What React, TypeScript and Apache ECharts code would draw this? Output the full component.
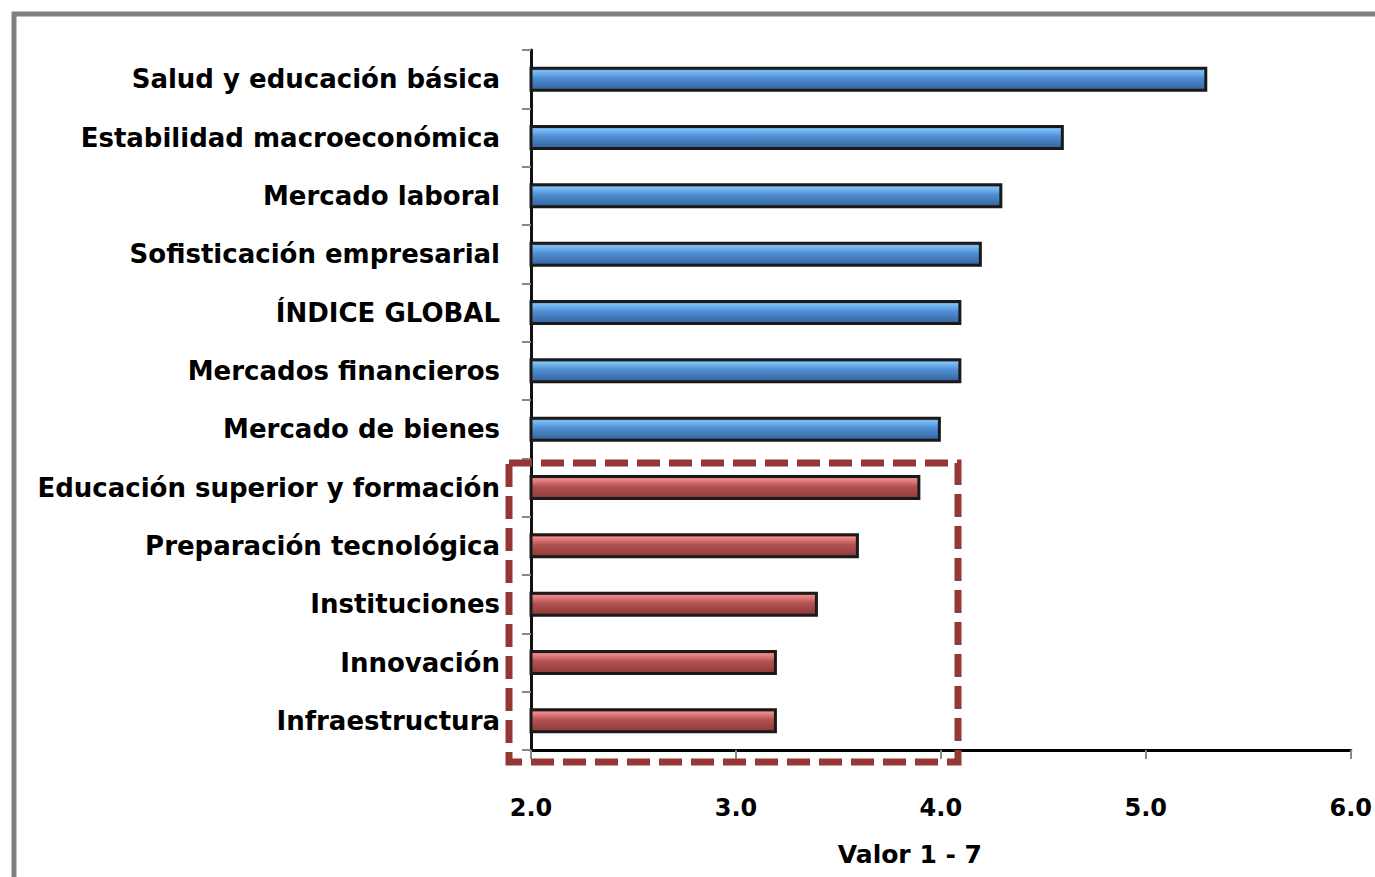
import React, { useEffect, useRef } from "react";
import * as echarts from "echarts";

const categories = [
  "Salud y educación básica",
  "Estabilidad macroeconómica",
  "Mercado laboral",
  "Sofisticación empresarial",
  "ÍNDICE GLOBAL",
  "Mercados financieros",
  "Mercado de bienes",
  "Educación superior y formación",
  "Preparación tecnológica",
  "Instituciones",
  "Innovación",
  "Infraestructura",
];
const values = [5.3, 4.6, 4.3, 4.2, 4.1, 4.1, 4.0, 3.9, 3.6, 3.4, 3.2, 3.2];
const highlighted = [false, false, false, false, false, false, false, true, true, true, true, true];
const xTicks = [2, 3, 4, 5, 6];
const axisName = "Valor 1 - 7";

const FONT = "DejaVu Sans";

const blueFill = new echarts.graphic.LinearGradient(0, 0, 0, 1, [
  { offset: 0, color: "#3f79bb" },
  { offset: 0.12, color: "#80c0f5" },
  { offset: 0.45, color: "#4f8fd4" },
  { offset: 1, color: "#35629b" },
]);
const redFill = new echarts.graphic.LinearGradient(0, 0, 0, 1, [
  { offset: 0, color: "#b85050" },
  { offset: 0.12, color: "#ee8c8c" },
  { offset: 0.45, color: "#b45252" },
  { offset: 1, color: "#8c3939" },
]);

export default function App() {
  const ref = useRef<HTMLDivElement>(null);
  useEffect(() => {
    if (!ref.current) return;
    const chart = echarts.init(ref.current, undefined, { renderer: "svg" });
    const cats = [...categories].reverse();
    const vals = [...values].reverse();
    const hl = [...highlighted].reverse();
    chart.setOption({
      animation: false,
      backgroundColor: "#ffffff",
      grid: { left: 531, right: 21, top: 50, bottom: 127, containLabel: false },
      xAxis: {
        type: "value",
        min: xTicks[0],
        max: xTicks[xTicks.length - 1],
        interval: 1,
        name: axisName,
        nameLocation: "middle",
        nameGap: 92,
        nameTextStyle: {
          fontFamily: FONT,
          fontWeight: "bold",
          fontSize: 25,
          color: "#000",
          padding: [0, 62, 0, 0],
        },
        axisLine: { show: true, lineStyle: { color: "#000", width: 3 } },
        axisTick: { show: true, length: 9, lineStyle: { color: "#888", width: 2 } },
        splitLine: { show: false },
        axisLabel: {
          margin: 46,
          fontFamily: FONT,
          fontWeight: "bold",
          fontSize: 24,
          color: "#000",
          formatter: (v: number) => v.toFixed(1),
        },
      },
      yAxis: {
        type: "category",
        data: cats,
        axisLine: { show: true, lineStyle: { color: "#111", width: 3 } },
        axisTick: { show: true, length: 9, lineStyle: { color: "#888", width: 2 } },
        axisLabel: {
          margin: 31,
          fontFamily: FONT,
          fontWeight: "bold",
          fontSize: 26,
          color: "#000",
        },
      },
      series: [
        {
          type: "bar",
          barWidth: 25,
          data: vals.map((v, i) => ({
            value: v,
            itemStyle: {
              color: hl[i] ? redFill : blueFill,
              borderColor: "#1a1a1a",
              borderWidth: 3,
            },
          })),
        },
      ],
      graphic: [
        {
          type: "rect",
          shape: { x: 14, y: 14, width: 1420, height: 920 },
          style: { fill: "none", stroke: "#808080", lineWidth: 5 },
          silent: true,
        },
        {
          type: "rect",
          shape: { x: 509, y: 463, width: 449, height: 299 },
          style: { fill: "none", stroke: "#953735", lineWidth: 7, lineDash: [23, 9] },
          silent: true,
          z: 100,
        },
      ],
    });
    return () => chart.dispose();
  }, []);
  return (
    <div
      ref={ref}
      style={{ position: "fixed", left: 0, top: 0, width: 1375, height: 877, background: "#fff" }}
    />
  );
}
